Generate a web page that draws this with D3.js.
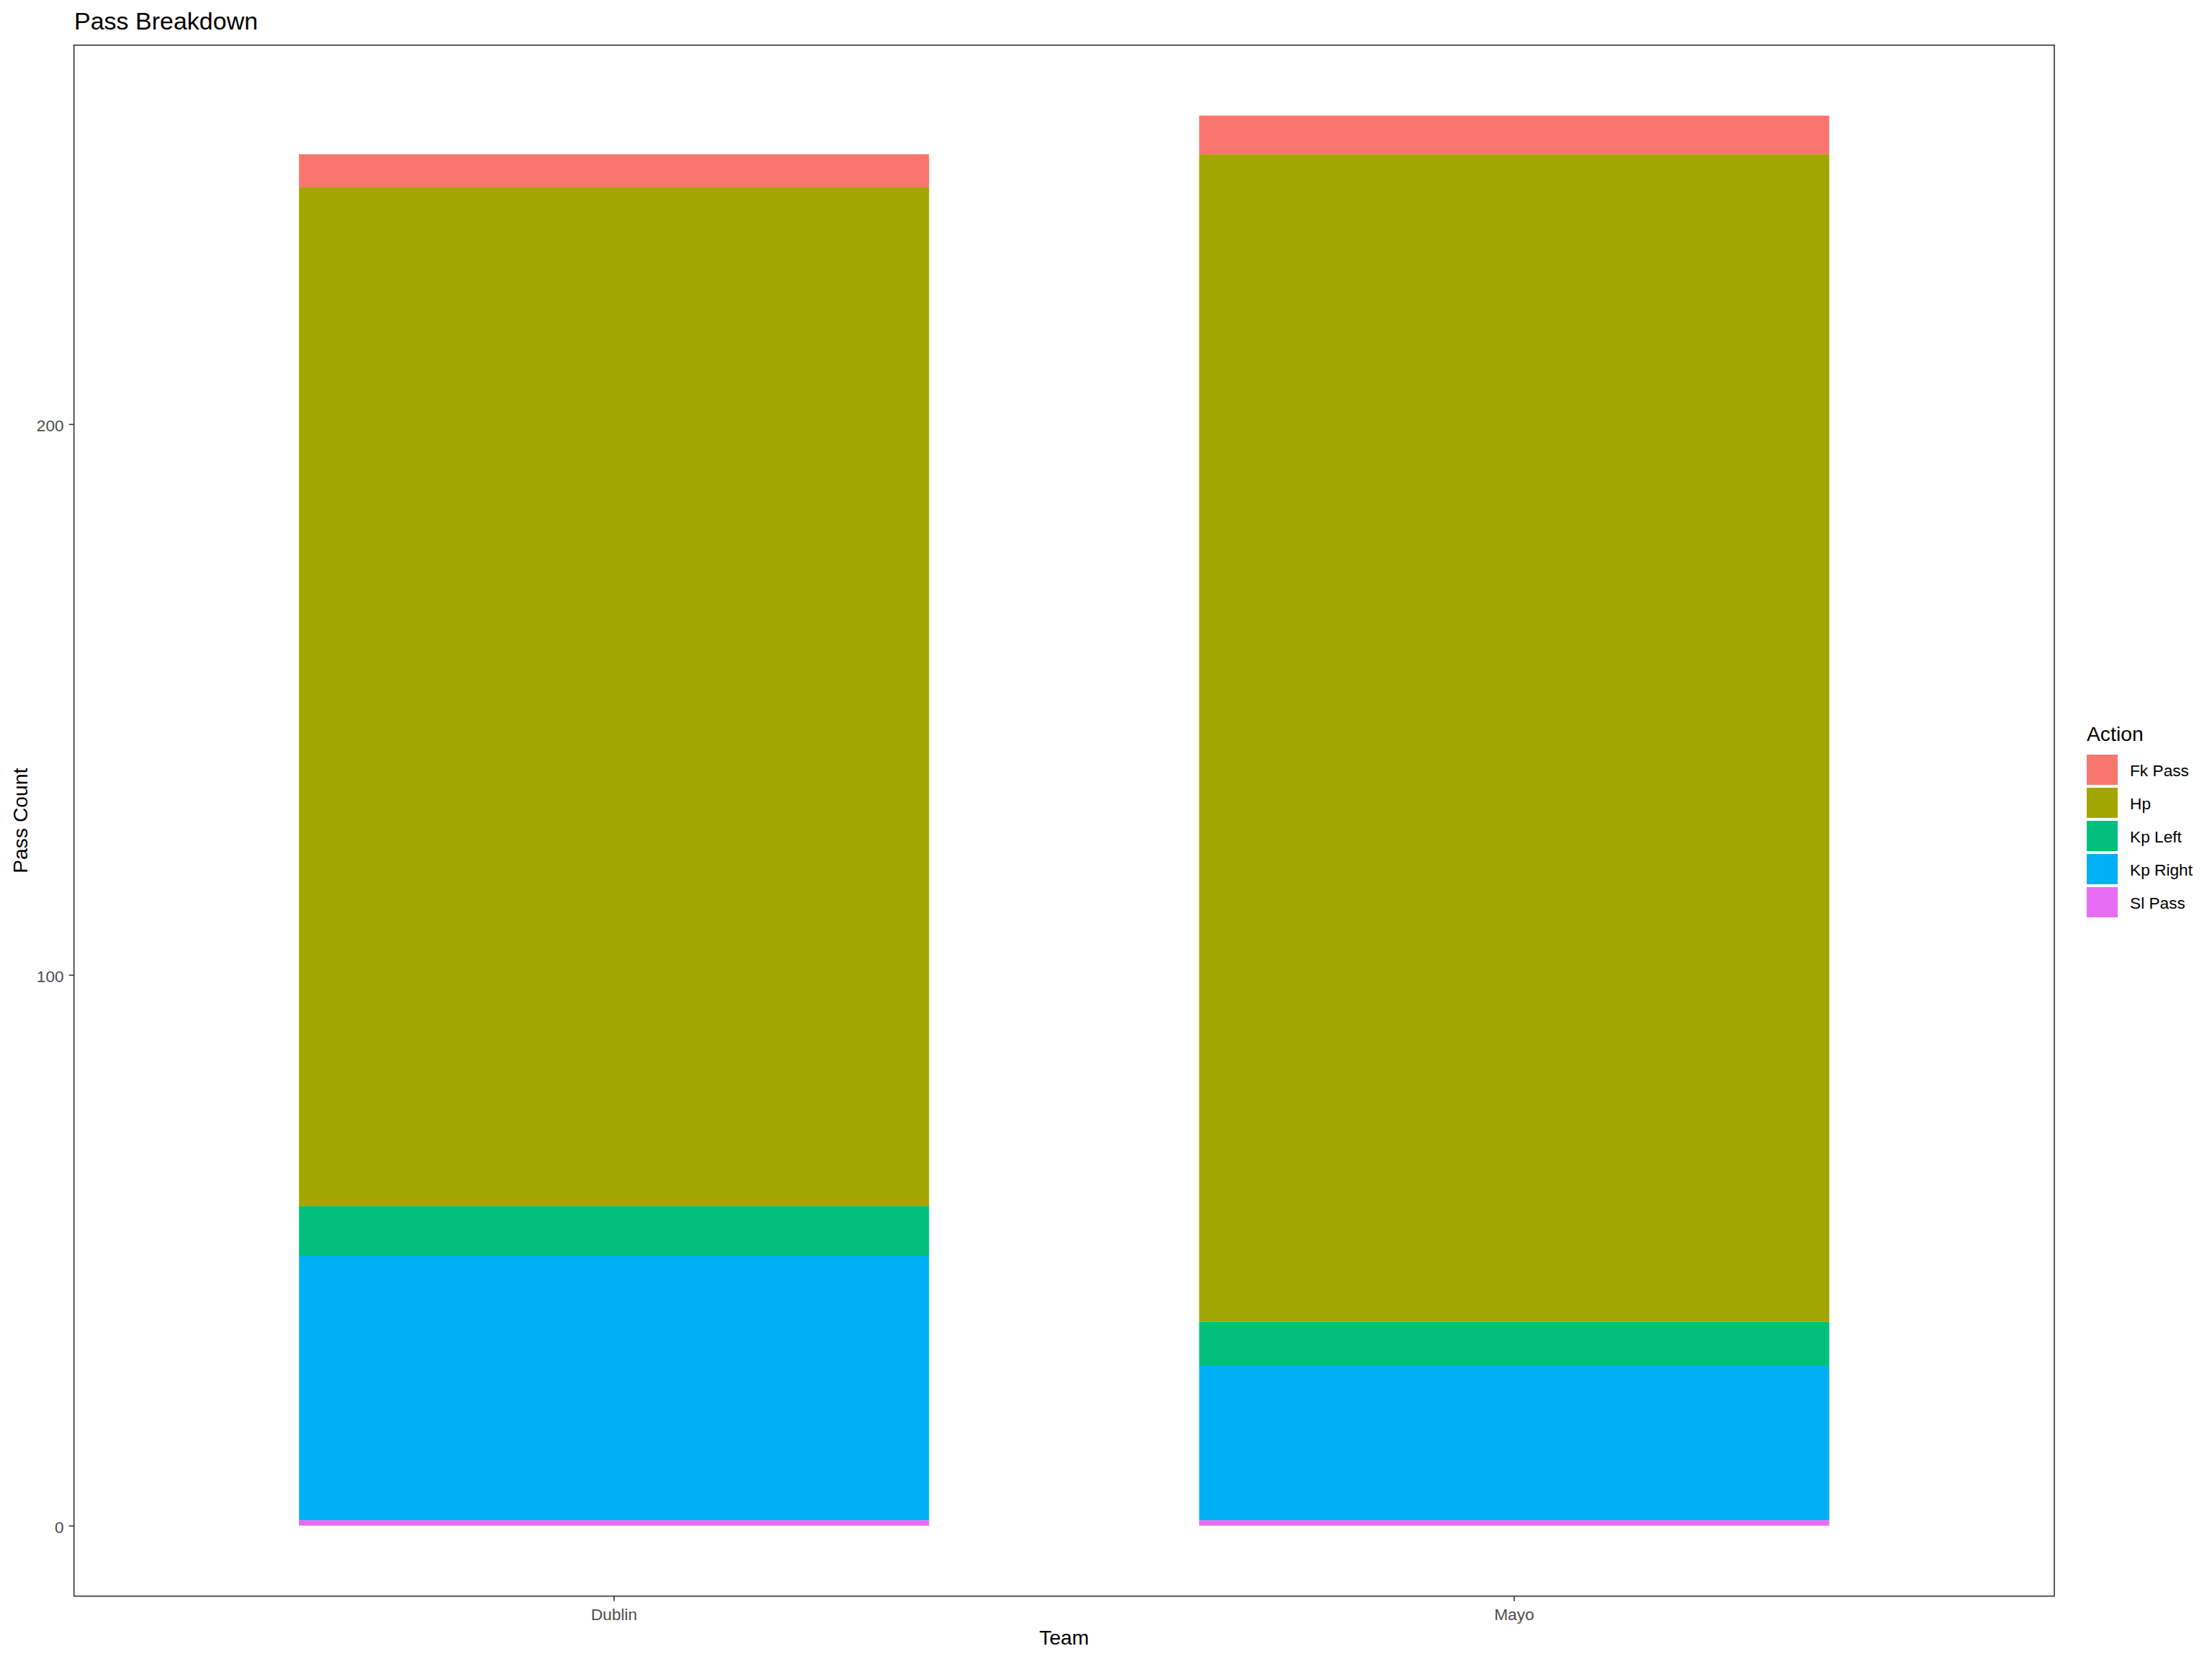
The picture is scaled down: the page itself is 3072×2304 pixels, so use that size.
<!DOCTYPE html>
<html>
<head>
<meta charset="utf-8">
<script src="https://cdn.jsdelivr.net/npm/d3@7"></script>
<style>
  html, body { margin: 0; padding: 0; background: #fff; }
  svg { display: block; font-family: "Liberation Sans", Arial, sans-serif; }
</style>
</head>
<body>
<script>
// ---- data ----
const teams = ["Dublin", "Mayo"];
const actions = ["Fk Pass", "Hp", "Kp Left", "Kp Right", "Sl Pass"];
const fkPass = [6, 7];
const hp = [185, 212];
const kpLeft = [9, 8];
const kpRight = [48, 28];
const slPass = [1, 1];
const yTickValues = [0, 100, 200];
const colors = ["#F8766D", "#A3A500", "#00BF7D", "#00B0F6", "#E76BF3"];
const titleText = "Pass Breakdown";
const xTitle = "Team";
const yTitle = "Pass Count";
const legendTitle = "Action";

// ---- build table ----
const seriesByAction = {"Fk Pass": fkPass, "Hp": hp, "Kp Left": kpLeft, "Kp Right": kpRight, "Sl Pass": slPass};
const rows = teams.map((t, i) => {
  const r = {team: t};
  actions.forEach(a => r[a] = seriesByAction[a][i]);
  return r;
});

const W = 3072, H = 2304;
const panel = {left: 102.7, right: 2853, top: 62.7, bottom: 2216.7};

const svg = d3.select("body").append("svg").attr("width", W).attr("height", H);
svg.append("rect").attr("width", W).attr("height", H).attr("fill", "#fff");

// stack: first level on top -> stack from last key upward
const stackKeys = actions.slice().reverse();
const stacked = d3.stack().keys(stackKeys)(rows);
const maxTotal = d3.max(rows, r => d3.sum(actions, a => r[a]));

const x = d3.scaleBand().domain(teams)
  .range([panel.left, panel.right])
  .paddingInner(0.3).paddingOuter(0.25);
const y = d3.scaleLinear()
  .domain([-0.05 * maxTotal, maxTotal * 1.05])
  .range([panel.bottom, panel.top]);
const color = d3.scaleOrdinal().domain(actions).range(colors);

// bars
const g = svg.append("g");
g.selectAll("g.layer").data(stacked).join("g")
  .attr("fill", d => color(d.key))
  .selectAll("rect").data(d => d).join("rect")
  .attr("x", d => x(d.data.team))
  .attr("width", x.bandwidth())
  .attr("y", d => y(d[1]))
  .attr("height", d => y(d[0]) - y(d[1]));

// panel border
svg.append("rect")
  .attr("x", panel.left).attr("y", panel.top)
  .attr("width", panel.right - panel.left).attr("height", panel.bottom - panel.top)
  .attr("fill", "none").attr("stroke", "#333333").attr("stroke-width", 1.6);

// y axis
const yAxis = d3.axisLeft(y).tickValues(yTickValues).tickSize(7).tickPadding(7);
const yg = svg.append("g").attr("transform", `translate(${panel.left},0)`).call(yAxis);
yg.select(".domain").remove();
yg.selectAll(".tick line").attr("stroke", "#333333").attr("stroke-width", 1.6);
yg.selectAll(".tick text").attr("fill", "#4D4D4D")
  .style("font-size", "22.7px").style("font-family", '"Liberation Sans", Arial, sans-serif')
  .attr("dy", null).attr("y", 10).attr("dominant-baseline", null);

// x axis
const xAxis = d3.axisBottom(x).tickSize(7).tickPadding(6);
const xg = svg.append("g").attr("transform", `translate(0,${panel.bottom})`).call(xAxis);
xg.select(".domain").remove();
xg.selectAll(".tick line").attr("stroke", "#333333").attr("stroke-width", 1.6);
xg.selectAll(".tick text").attr("fill", "#4D4D4D")
  .style("font-size", "22.7px").style("font-family", '"Liberation Sans", Arial, sans-serif')
  .attr("dy", null).attr("y", 33.8);

// titles
svg.append("text").attr("x", 103).attr("y", 41)
  .style("font-size", "34px").attr("fill", "#000").text(titleText);
svg.append("text").attr("x", (panel.left + panel.right) / 2).attr("y", 2284)
  .attr("text-anchor", "middle").style("font-size", "28.3px").attr("fill", "#000").text(xTitle);
svg.append("text")
  .attr("transform", `translate(37.5,${(panel.top + panel.bottom) / 2}) rotate(-90)`)
  .attr("text-anchor", "middle").style("font-size", "28.3px").attr("fill", "#000").text(yTitle);

// legend
const lg = svg.append("g");
lg.append("text").attr("x", 2898).attr("y", 1029)
  .style("font-size", "28.3px").attr("fill", "#000").text(legendTitle);
const items = lg.selectAll("g.item").data(actions).join("g")
  .attr("transform", (d, i) => `translate(2898,${1048 + i * 46})`);
items.append("rect").attr("width", 43).attr("height", 42).attr("fill", d => color(d));
items.append("text").attr("x", 60).attr("y", 30)
  .style("font-size", "22.7px").attr("fill", "#000").text(d => d);
</script>
</body>
</html>
